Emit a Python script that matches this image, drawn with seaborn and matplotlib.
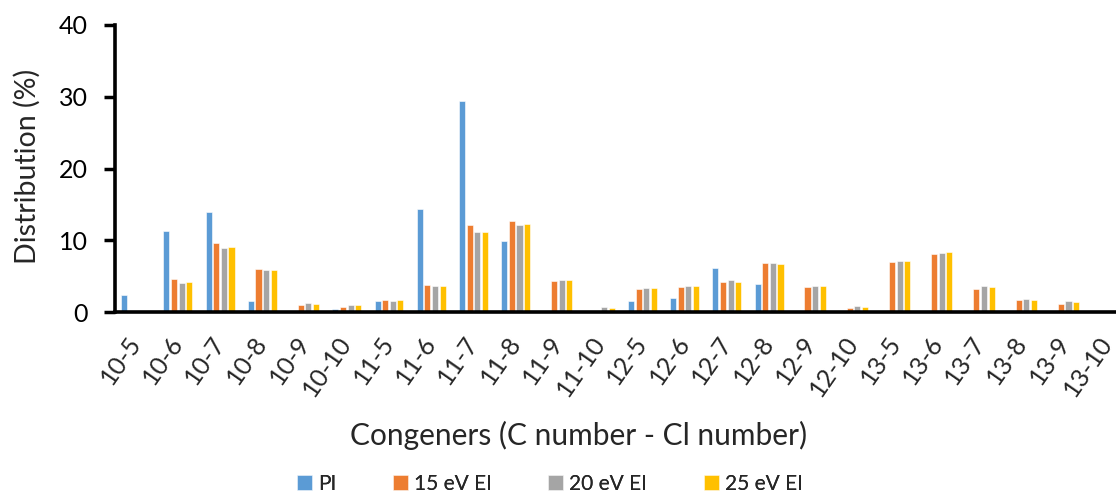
import matplotlib
matplotlib.use("Agg")
import matplotlib.pyplot as plt
import seaborn as sns
import pandas as pd

categories = ["10-5", "10-6", "10-7", "10-8", "10-9", "10-10", "11-5", "11-6",
              "11-7", "11-8", "11-9", "11-10", "12-5", "12-6", "12-7", "12-8",
              "12-9", "12-10", "13-5", "13-6", "13-7", "13-8", "13-9", "13-10"]
series_names = ["PI", "15 eV EI", "20 eV EI", "25 eV EI"]

pi_vals   = [2.4, 11.3, 13.9, 1.5, 0.0, 0.37, 1.53, 14.4, 29.45, 9.9, 0.0, 0.0,
             1.49, 1.9, 6.18, 3.9, 0.0, 0.05, 0.1, 0.0, 0.0, 0.0, 0.0, 0.0]
ei15_vals = [0.0, 4.56, 9.67, 6.0, 0.93, 0.7, 1.63, 3.72, 12.08, 12.73, 4.28, 0.1,
             3.25, 3.48, 4.13, 6.83, 3.44, 0.51, 6.97, 8.08, 3.16, 1.67, 1.16, 0.0]
ei20_vals = [0.0, 4.04, 8.88, 5.85, 1.21, 0.98, 1.53, 3.58, 11.1, 12.17, 4.46, 0.65,
             3.35, 3.67, 4.41, 6.78, 3.67, 0.84, 7.06, 8.27, 3.62, 1.81, 1.53, 0.0]
ei25_vals = [0.0, 4.18, 9.06, 5.9, 1.1, 0.93, 1.67, 3.58, 11.15, 12.2, 4.42, 0.51,
             3.39, 3.67, 4.23, 6.74, 3.62, 0.7, 7.1, 8.36, 3.48, 1.72, 1.35, 0.0]

y_ticks = [0, 10, 20, 30, 40]

colors = ["#5B9BD5", "#ED7D31", "#A5A5A5", "#FFC000"]

rows = []
for name, vals in zip(series_names, [pi_vals, ei15_vals, ei20_vals, ei25_vals]):
    for c, v in zip(categories, vals):
        rows.append({"Congener": c, "Series": name, "Value": v})
df = pd.DataFrame(rows)

sns.set_theme(style="white")
plt.rcParams["font.family"] = ["Lato", "DejaVu Sans"]

fig = plt.figure(figsize=(11.16, 4.95), dpi=100)
ax = fig.add_axes([114.5 / 1116, 1 - 312 / 495, (24 * 42.23) / 1116, 287 / 495])

sns.barplot(data=df, x="Congener", y="Value", hue="Series", order=categories,
            hue_order=series_names, palette=colors, saturation=1, width=0.72, gap=0.2,
            edgecolor="white", linewidth=0.4, ax=ax, legend=True)

ax.set_xlim(-0.5, len(categories) - 0.5)
ax.set_ylim(0, 40)
ax.set_yticks(y_ticks)
ax.set_yticklabels([str(t) for t in y_ticks], fontsize=18, color="#000000")
ax.tick_params(axis="y", direction="out", length=8, width=2.5, color="black", pad=11, left=True)
ax.tick_params(axis="x", length=0, pad=19)
for lbl in ax.get_xticklabels():
    lbl.set_rotation(55)
    lbl.set_ha("right")
    lbl.set_va("center")
    lbl.set_rotation_mode("anchor")
    lbl.set_fontsize(18)

for s in ["top", "right"]:
    ax.spines[s].set_visible(False)
for s in ["left", "bottom"]:
    ax.spines[s].set_color("black")
    ax.spines[s].set_linewidth(2.6)

ax.set_xlabel("")
ax.set_ylabel("")
fig.text(579 / 1116, 1 - 435 / 495, "Congeners (C number - Cl number)", ha="center", va="center", fontsize=21.5)
fig.text(27 / 1116, 1 - 166 / 495, "Distribution (%)", ha="center", va="center", rotation=90, fontsize=20.5)

handles, labels = ax.get_legend_handles_labels()
ax.get_legend().remove()
legend_x = [297, 393, 548, 704]
for h, l, xp in zip(handles, labels, legend_x):
    leg = fig.legend([h], [l], loc="center left", bbox_to_anchor=(xp / 1116, 1 - 484 / 495),
                     frameon=False, fontsize=15, handlelength=0.7, handleheight=0.7,
                     handletextpad=0.3, borderpad=0, borderaxespad=0)
    fig.add_artist(leg)

fig.savefig("out.png", dpi=100)
